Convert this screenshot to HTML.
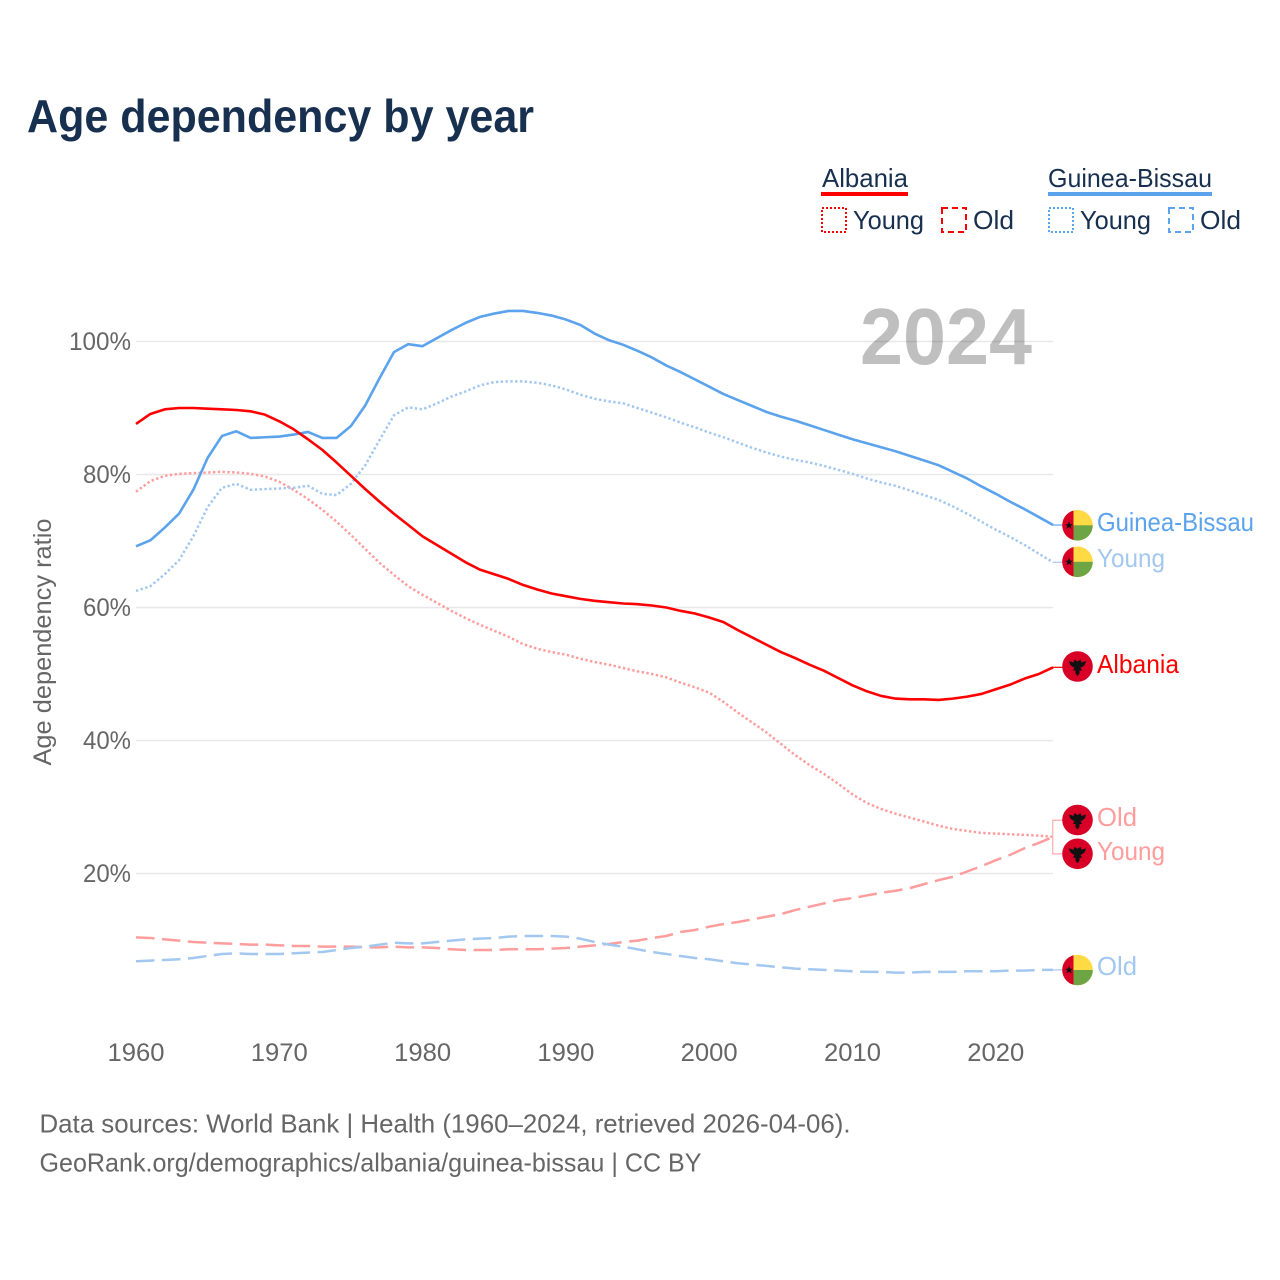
<!DOCTYPE html>
<html lang="en">
<head>
<meta charset="utf-8">
<title>Age dependency by year</title>
<style>
html,body{margin:0;padding:0;background:#fff}
svg{display:block}
text{font-family:"Liberation Sans",sans-serif}
</style>
</head>
<body>
<svg id="chart" xmlns="http://www.w3.org/2000/svg" width="1280" height="1280" viewBox="0 0 1280 1280">
<defs>
<clipPath id="flag-clip"><circle cx="0" cy="0" r="15.3"/></clipPath>
<g id="gw-flag">
<g clip-path="url(#flag-clip)">
<rect x="-16" y="-16" width="32" height="32" fill="#ffda44"/>
<rect x="-4" y="0" width="20" height="16" fill="#6da544"/>
<rect x="-16" y="-16" width="12" height="32" fill="#d80027"/>
<polygon points="-8.5,-4 -7.4,-1.2 -4.5,-1.2 -6.8,0.6 -5.9,3.5 -8.5,1.8 -11.1,3.5 -10.2,0.6 -12.5,-1.2 -9.6,-1.2" fill="#111"/>
</g>
</g>
<g id="al-flag">
<circle r="15.3" fill="#d80027"/>
<path d="M-8.5,-5.5 L-4,-4 L-3,-7 L0,-5 L3,-7 L4,-4 L8.5,-5.5 L7.5,-2 L5.5,0 L3,1 L4.5,4 L2,4 L2,7 L0,9.5 L-2,7 L-2,4 L-4.5,4 L-3,1 L-5.5,0 L-7.5,-2 Z" fill="#111"/>
</g>
</defs>

<text x="27" y="132" font-size="46" font-weight="700" fill="#18304f" textLength="507" lengthAdjust="spacingAndGlyphs">Age dependency by year</text>

<g>
<g>
<text x="822" y="187" font-size="26" fill="#18304f" textLength="86" lengthAdjust="spacingAndGlyphs">Albania</text>
<rect x="821" y="192" width="87" height="4" fill="#ff0000"/>
<rect x="822" y="208" width="24" height="24" fill="none" stroke="#ff0000" stroke-width="2" stroke-dasharray="2 2"/>
<text x="853" y="229" font-size="26" fill="#18304f" textLength="71" lengthAdjust="spacingAndGlyphs">Young</text>
<rect x="942" y="208" width="24" height="24" fill="none" stroke="#ff0000" stroke-width="2" stroke-dasharray="6 4"/>
<text x="973" y="229" font-size="26" fill="#18304f" textLength="41" lengthAdjust="spacingAndGlyphs">Old</text>
</g>
<g>
<text x="1048" y="187" font-size="26" fill="#18304f" textLength="164" lengthAdjust="spacingAndGlyphs">Guinea-Bissau</text>
<rect x="1048" y="192" width="164" height="4" fill="#5ba3ec"/>
<rect x="1049" y="208" width="24" height="24" fill="none" stroke="#5ba3ec" stroke-width="2" stroke-dasharray="2 2"/>
<text x="1080" y="229" font-size="26" fill="#18304f" textLength="71" lengthAdjust="spacingAndGlyphs">Young</text>
<rect x="1169" y="208" width="24" height="24" fill="none" stroke="#5ba3ec" stroke-width="2" stroke-dasharray="6 4"/>
<text x="1200" y="229" font-size="26" fill="#18304f" textLength="41" lengthAdjust="spacingAndGlyphs">Old</text>
</g>
</g>

<g id="grid"></g>
<text x="860" y="364" font-size="80" font-weight="700" fill="#000000" fill-opacity="0.25" textLength="172" lengthAdjust="spacingAndGlyphs">2024</text>
<g id="y-ticks"></g>
<g id="x-ticks"></g>
<text transform="translate(51,642) rotate(-90)" text-anchor="middle" font-size="25" fill="#666666" textLength="247" lengthAdjust="spacingAndGlyphs">Age dependency ratio</text>
<g id="series"></g>

<g>
<g>
<use href="#gw-flag" x="1077.5" y="525.3"/>
<text x="1097" y="531" font-size="26" fill="#5ba3ec" textLength="157" lengthAdjust="spacingAndGlyphs">Guinea-Bissau</text>
</g>
<g>
<use href="#gw-flag" x="1077.5" y="561.8"/>
<text x="1097" y="567" font-size="26" fill="#a3c8f0" textLength="68" lengthAdjust="spacingAndGlyphs">Young</text>
</g>
<g>
<use href="#al-flag" x="1077.5" y="666.5"/>
<text x="1097" y="673" font-size="26" fill="#ff0000" textLength="82" lengthAdjust="spacingAndGlyphs">Albania</text>
</g>
<path d="M1063,820.3H1052.7V853.8H1063" fill="none" stroke="#ffb3b3" stroke-width="1.3"/>
<g>
<use href="#al-flag" x="1077.5" y="820"/>
<text x="1097" y="826" font-size="26" fill="#ff9d9d" textLength="40" lengthAdjust="spacingAndGlyphs">Old</text>
</g>
<g>
<use href="#al-flag" x="1077.5" y="853.8"/>
<text x="1097" y="860" font-size="26" fill="#ff9d9d" textLength="68" lengthAdjust="spacingAndGlyphs">Young</text>
</g>
<g>
<use href="#gw-flag" x="1077.5" y="970"/>
<text x="1097" y="975" font-size="26" fill="#a3c8f0" textLength="40" lengthAdjust="spacingAndGlyphs">Old</text>
</g>
</g>

<g>
<text x="39.5" y="1132.5" font-size="26" fill="#666666" textLength="811" lengthAdjust="spacingAndGlyphs">Data sources: World Bank | Health (1960–2024, retrieved 2026-04-06).</text>
<text x="39.5" y="1171.5" font-size="26" fill="#666666" textLength="662" lengthAdjust="spacingAndGlyphs">GeoRank.org/demographics/albania/guinea-bissau | CC BY</text>
</g>
</svg>

<script>
const startYear = 1960;
const xTickValues = [1960, 1970, 1980, 1990, 2000, 2010, 2020];
const yTickValues = [20, 40, 60, 80, 100];

const albaniaTotal = [
87.6,89.1,89.8,90.0,90.0,89.9,89.8,89.7,89.5,89.0,
88.0,86.8,85.3,83.7,81.8,79.8,77.8,75.9,74.1,72.4,
70.7,69.4,68.1,66.8,65.7,65.0,64.3,63.4,62.7,62.1,
61.7,61.3,61.0,60.8,60.6,60.5,60.3,60.0,59.5,59.1,
58.5,57.8,56.6,55.5,54.4,53.3,52.4,51.4,50.5,49.4,
48.3,47.4,46.7,46.3,46.2,46.2,46.1,46.3,46.6,47.0,
47.7,48.4,49.3,50.0,51.0];

const albaniaYoung = [
77.4,79.0,79.8,80.1,80.2,80.3,80.4,80.3,80.1,79.7,
78.9,77.7,76.3,74.7,72.9,70.9,68.8,66.7,64.9,63.2,
61.9,60.7,59.5,58.4,57.4,56.5,55.6,54.5,53.8,53.3,
52.9,52.3,51.8,51.4,50.9,50.4,50.0,49.5,48.7,48.0,
47.2,45.8,44.2,42.7,41.2,39.5,37.8,36.3,35.0,33.5,
31.9,30.6,29.7,29.0,28.4,27.8,27.2,26.7,26.4,26.1,
26.0,25.9,25.8,25.7,25.5];

const albaniaOld = [
10.4,10.3,10.1,9.9,9.7,9.6,9.5,9.4,9.3,9.3,
9.2,9.1,9.1,9.0,9.0,9.0,8.9,8.9,9.0,8.9,
8.9,8.8,8.6,8.5,8.5,8.5,8.6,8.6,8.6,8.7,
8.8,9.0,9.2,9.4,9.7,9.9,10.3,10.6,11.2,11.5,
12.0,12.4,12.7,13.1,13.5,13.9,14.5,15.0,15.5,16.0,
16.3,16.7,17.1,17.4,17.8,18.4,19.0,19.5,20.3,21.1,
22.0,22.8,23.8,24.6,25.5];

const guineaTotal = [
69.2,70.1,72.0,74.1,77.7,82.5,85.8,86.5,85.5,85.6,
85.7,86.0,86.4,85.5,85.5,87.3,90.4,94.5,98.4,99.6,
99.3,100.5,101.7,102.8,103.7,104.2,104.6,104.6,104.3,103.9,
103.3,102.5,101.2,100.2,99.5,98.6,97.6,96.4,95.4,94.3,
93.2,92.1,91.2,90.3,89.4,88.7,88.1,87.4,86.7,86.0,
85.3,84.7,84.1,83.5,82.8,82.1,81.4,80.4,79.4,78.2,
77.1,75.9,74.8,73.6,72.4];

const guineaYoung = [
62.5,63.2,65.0,67.1,70.7,75.1,78.0,78.6,77.7,77.8,
77.9,78.0,78.3,77.1,76.9,78.6,81.4,85.2,88.9,90.1,
89.8,90.7,91.7,92.5,93.4,93.9,94.0,94.0,93.8,93.4,
92.8,92.0,91.4,91.0,90.7,90.0,89.3,88.6,87.8,87.1,
86.3,85.6,84.8,84.0,83.3,82.7,82.2,81.8,81.3,80.7,
80.1,79.4,78.8,78.3,77.6,76.9,76.2,75.2,74.1,72.9,
71.7,70.6,69.4,68.1,66.8];

const guineaOld = [
6.8,6.9,7.0,7.1,7.3,7.6,7.9,8.0,7.9,7.9,
7.9,8.0,8.1,8.2,8.5,8.8,9.0,9.3,9.6,9.5,
9.5,9.7,9.9,10.1,10.2,10.3,10.5,10.6,10.6,10.6,
10.5,10.2,9.7,9.3,9.0,8.6,8.2,7.9,7.6,7.3,
7.1,6.8,6.5,6.3,6.1,5.9,5.7,5.6,5.5,5.4,
5.3,5.2,5.2,5.1,5.1,5.2,5.2,5.2,5.3,5.3,
5.3,5.4,5.4,5.5,5.5];

const SVG_NS = 'http://www.w3.org/2000/svg';
const xScale = function (year) { return 136 + (year - 1960) * 14.33; };
const yScale = function (pct) { return 1006.5 - pct * 6.65; };

const gridLayer = document.getElementById('grid');
const yTickLayer = document.getElementById('y-ticks');
const xTickLayer = document.getElementById('x-ticks');
const seriesLayer = document.getElementById('series');

yTickValues.forEach(function (v) {
  const line = document.createElementNS(SVG_NS, 'line');
  
  
  line.setAttribute('x1', 136);
  line.setAttribute('x2', 1053);
  line.setAttribute('y1', yScale(v));
  line.setAttribute('y2', yScale(v));
  line.setAttribute('stroke', '#e8e8e8');
  line.setAttribute('stroke-width', '1.5');
  gridLayer.appendChild(line);

  const label = document.createElementNS(SVG_NS, 'text');
  
  
  label.setAttribute('x', 131);
  label.setAttribute('y', yScale(v) + 8.5);
  label.setAttribute('text-anchor', 'end');
  label.setAttribute('font-size', '25');
  label.setAttribute('fill', '#666666');
  label.setAttribute('textLength', v === 100 ? 62 : 48);
  label.setAttribute('lengthAdjust', 'spacingAndGlyphs');
  label.textContent = v + '%';
  yTickLayer.appendChild(label);
});

xTickValues.forEach(function (v) {
  const label = document.createElementNS(SVG_NS, 'text');
  
  
  label.setAttribute('x', xScale(v));
  label.setAttribute('y', 1061);
  label.setAttribute('text-anchor', 'middle');
  label.setAttribute('font-size', '25');
  label.setAttribute('fill', '#666666');
  label.setAttribute('textLength', 57);
  label.setAttribute('lengthAdjust', 'spacingAndGlyphs');
  label.textContent = v;
  xTickLayer.appendChild(label);
});

function drawLine(name, values, color, width, dash) {
  const points = values.map(function (v, i) {
    return xScale(startYear + i).toFixed(2) + ',' + yScale(v).toFixed(2);
  });
  const endY = yScale(values[values.length - 1]);
  const path = document.createElementNS(SVG_NS, 'polyline');
  
  
  path.setAttribute('points', points.join(' '));
  path.setAttribute('fill', 'none');
  path.setAttribute('stroke', color);
  path.setAttribute('stroke-width', width);
  path.setAttribute('stroke-linejoin', 'round');
  if (dash) { path.setAttribute('stroke-dasharray', dash); }
  seriesLayer.appendChild(path);
  return endY;
}

function drawLeader(name, y, color) {
  const line = document.createElementNS(SVG_NS, 'line');
  
  
  line.setAttribute('x1', xScale(2024));
  line.setAttribute('x2', 1063);
  line.setAttribute('y1', y);
  line.setAttribute('y2', y);
  line.setAttribute('stroke', color);
  line.setAttribute('stroke-width', '1.2');
  seriesLayer.appendChild(line);
}

drawLine('albania-young-line', albaniaYoung, '#ff9d9d', 2.5, '2.4 2.4');
drawLine('albania-old-line', albaniaOld, '#ff9d9d', 2.5, '18.5 7.5');
const gyEnd = drawLine('guinea-bissau-young-line', guineaYoung, '#a3c8f0', 2.5, '2.4 2.4');
const goEnd = drawLine('guinea-bissau-old-line', guineaOld, '#a3c8f0', 2.5, '18.5 7.5');
const gtEnd = drawLine('guinea-bissau-total-line', guineaTotal, '#5ba3ec', 2.6, null);
const atEnd = drawLine('albania-total-line', albaniaTotal, '#ff0000', 2.6, null);

drawLeader('guinea-bissau-young-leader', gyEnd, '#a3c8f0');
drawLeader('guinea-bissau-old-leader', goEnd, '#a3c8f0');
drawLeader('guinea-bissau-total-leader', gtEnd, '#5ba3ec');
drawLeader('albania-total-leader', atEnd, '#ff0000');
</script>
</body>
</html>
